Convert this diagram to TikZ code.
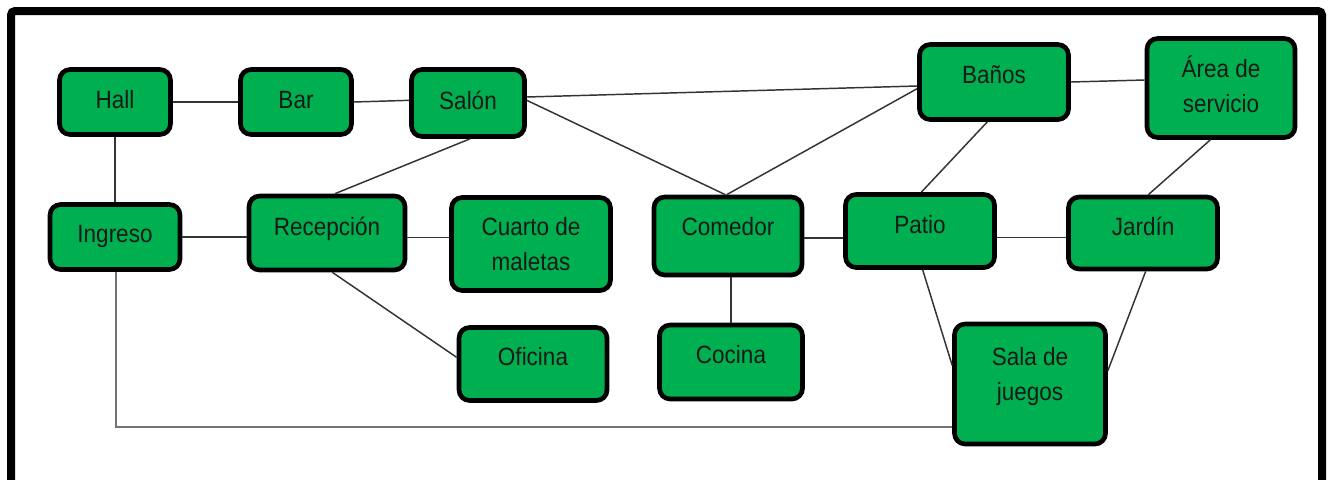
\documentclass[tikz,border=0pt]{standalone}
\usepackage{fontspec}
\setmainfont[FakeStretch=0.9]{Liberation Sans}
\definecolor{boxgreen}{RGB}{0,176,80}
\begin{document}
\begin{tikzpicture}[x=0.75pt,y=-0.75pt,
  box/.style={draw=black, line width=3.5pt, fill=boxgreen, rounded corners=8pt, inner sep=0pt},
  sz/.style 2 args={minimum width=#1*0.75pt, minimum height=#2*0.75pt},
  txt/.style={anchor=base, inner sep=0pt, align=center, text=black!90, font=\fontsize{18.75}{26}\selectfont},
  link/.style={draw=black!80, line width=1.1pt},
  longlink/.style={draw=black!55, line width=1.6pt}]
\useasboundingbox (0,0) rectangle (1330,479);
\fill[white] (0,0) rectangle (1330,479);
% frame
\draw[line width=6pt, rounded corners=3pt] (11,492) -- (11,11) -- (1322,11) -- (1322,492);

% boxes (outer size minus line width)
\node[box, sz={111}{65}] (hall) at (115,102) {};
\node[box, sz={111}{65}] (bar) at (296,102) {};
\node[box, sz={113}{67}] (sal) at (468,103) {};
\node[box, sz={149}{75}] (ban) at (994,82) {};
\node[box, sz={148}{99}] (are) at (1221,88) {};
\node[box, sz={130}{65}] (ing) at (115,237) {};
\node[box, sz={156}{74}] (rec) at (327,233) {};
\node[box, sz={159}{93}] (cua) at (531,244) {};
\node[box, sz={148}{73}] (ofi) at (533,364) {};
\node[box, sz={148}{78}] (com) at (728,236) {};
\node[box, sz={143}{74}] (coc) at (731,362) {};
\node[box, sz={149}{73}] (pat) at (920,231) {};
\node[box, sz={149}{72}] (jar) at (1143,233) {};
\node[box, sz={151}{120}] (jue) at (1030,384) {};

% texts
\node[txt] (hallt) at (115,108) {Hall};
\node[txt] (bart) at (296,108) {Bar};
\node[txt] (salt) at (468,109) {Salón};
\node[txt] (bant) at (994,83) {Baños};
\node[txt] (aret) at (1221,112) {Área de\\servicio};
\node[txt] (ingt) at (115,242) {Ingreso};
\node[txt] (rect) at (327,235) {Recepción};
\node[txt] (cuat) at (531,270) {Cuarto de\\maletas};
\node[txt] (ofit) at (533,365) {Oficina};
\node[txt] (comt) at (728,235) {Comedor};
\node[txt] (coct) at (731,363) {Cocina};
\node[txt] (patt) at (920,233) {Patio};
\node[txt] (jart) at (1143,235) {Jardín};
\node[txt] (juet) at (1030,400) {Sala de\\juegos};

% connectors
\path[link] (hall.east) -- (bar.west);
\path[link] (bar.east) -- ([yshift=2pt]sal.west);
\path[link] ([yshift=4.5pt]sal.east) -- ([yshift=-3pt]ban.west);
\path[link] ([yshift=2pt]sal.east) -- ([xshift=-2pt]com.north);
\path[link] ([yshift=-5pt]ban.west) -- ([xshift=-1pt]com.north);
\path[link] (ban.east) -- ([yshift=6pt]are.west);
\path[link] ([xshift=-5pt]ban.south) -- ([xshift=1pt]pat.north);
\path[link] ([xshift=-8pt]are.south) -- ([xshift=4pt]jar.north);
\path[link] (hall.south) -- (ing.north);
\path[link] ([xshift=1.5pt]sal.south) -- ([xshift=6pt]rec.north);
\path[link] (ing.east) -- (ing.east -| rec.west);
\path[link] ([yshift=-3.5pt]rec.east) -- ([yshift=-3.5pt]rec.east -| cua.west);
\path[link] ([xshift=4pt]rec.south) -- ([yshift=5pt]ofi.west);
\path[link] ([yshift=-1.5pt]com.east) -- ([yshift=-1.5pt]com.east -| pat.west);
\path[link] (coc.north) -- (coc.north |- com.south);
\path[link] ([yshift=-5pt]pat.east) -- ([yshift=-5pt]pat.east -| jar.west);
\path[link] ([xshift=2pt]pat.south) -- ([yshift=14pt]jue.west);
\path[link] ([xshift=2pt]jar.south) -- ([yshift=10pt]jue.east);
\path[longlink] ([xshift=1pt]ing.south) |- ([yshift=-32pt]jue.west);
\end{tikzpicture}
\end{document}
